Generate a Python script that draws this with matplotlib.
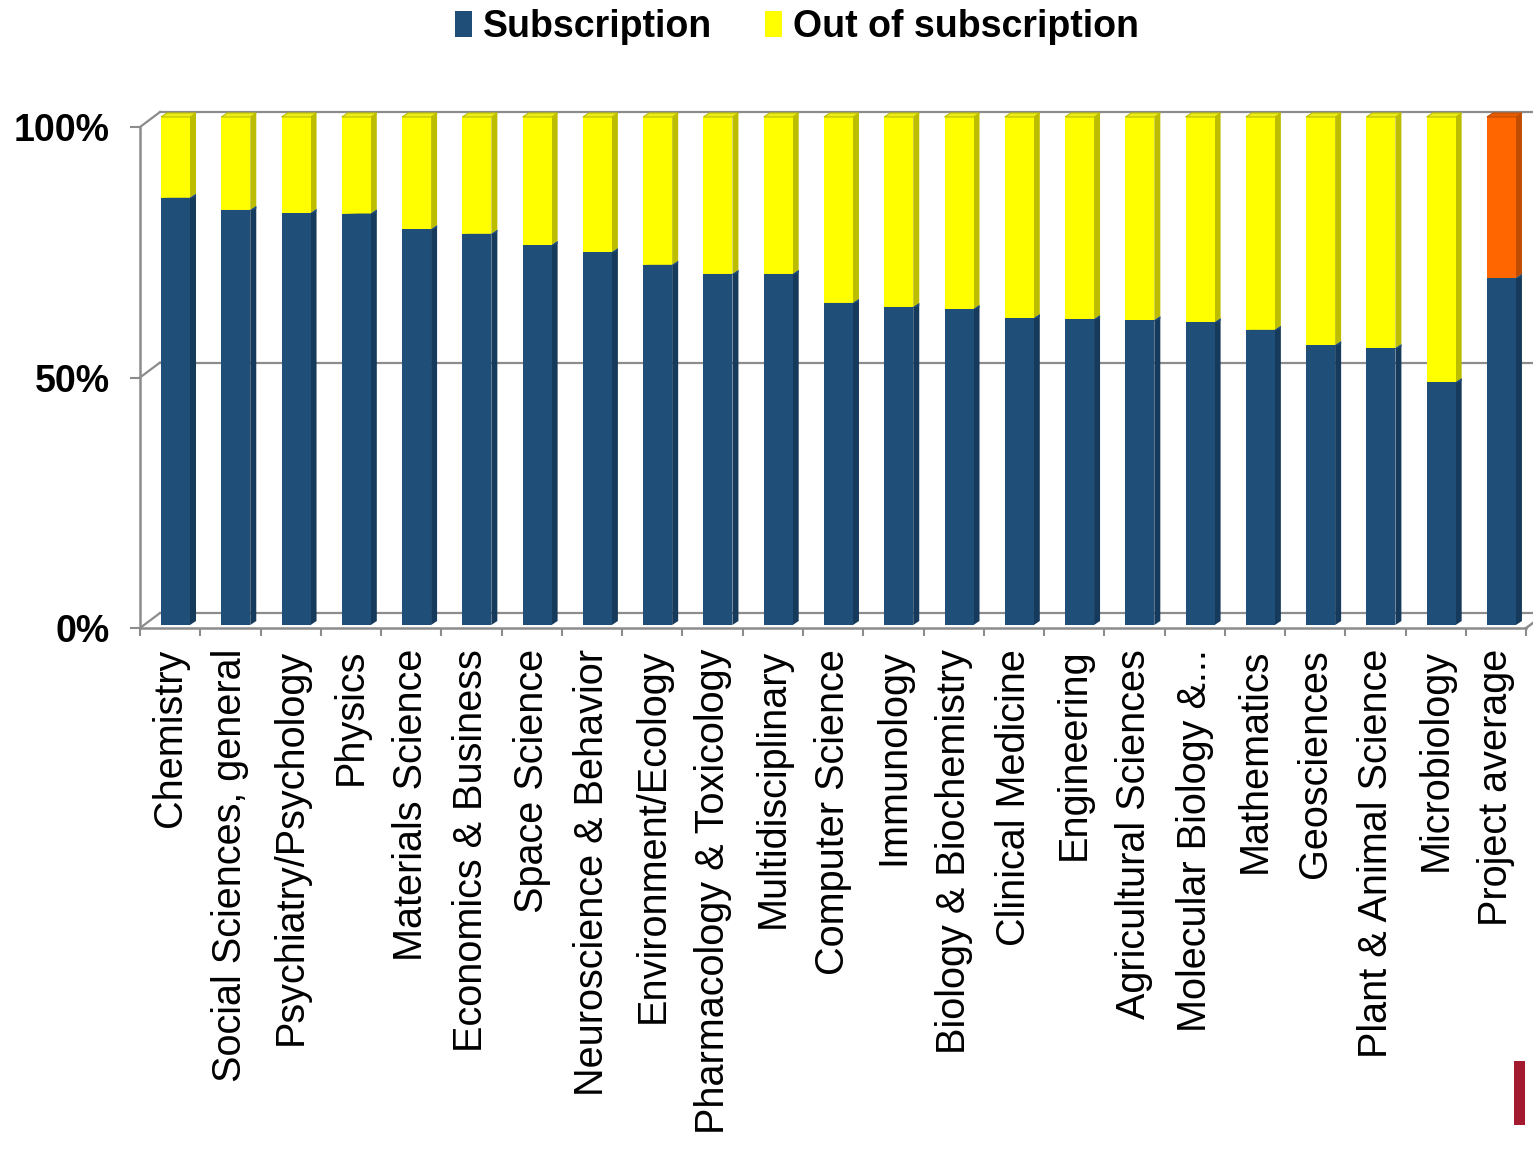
import matplotlib
matplotlib.use("Agg")
import matplotlib.pyplot as plt
from matplotlib.patches import Polygon, Patch, Rectangle
import numpy as np

# ---------------- data ----------------
categories = [
    "Chemistry", "Social Sciences, general", "Psychiatry/Psychology", "Physics",
    "Materials Science", "Economics & Business", "Space Science",
    "Neuroscience & Behavior", "Environment/Ecology", "Pharmacology & Toxicology",
    "Multidisciplinary", "Computer Science", "Immunology", "Biology & Biochemistry",
    "Clinical Medicine", "Engineering", "Agricultural Sciences", "Molecular Biology &...",
    "Mathematics", "Geosciences", "Plant & Animal Science", "Microbiology", "Project average",
]
subscription = [84.1, 81.7, 81.1, 81.0, 77.9, 77.0, 74.8, 73.4, 70.9, 69.1, 69.1, 63.4,
                62.6, 62.2, 60.4, 60.2, 60.0, 59.6, 58.1, 55.1, 54.5, 47.8, 68.3]
out_of_subscription = [15.9, 18.3, 18.9, 19.0, 22.1, 23.0, 25.2, 26.6, 29.1, 30.9, 30.9, 36.6,
                       37.4, 37.8, 39.6, 39.8, 40.0, 40.4, 41.9, 44.9, 45.5, 52.2, 31.7]
y_ticks = [0, 50, 100]
y_tick_labels = ["0%", "50%", "100%"]
series_names = ["Subscription", "Out of subscription"]

# ---------------- style ----------------
W, H = 1533, 1149
BLUE, BLUE_SIDE = "#1F4E79", "#163A5B"
YELLOW, YELLOW_SIDE, YELLOW_TOP = "#FFFF00", "#BDBD00", "#EDED1A"
ORANGE, ORANGE_SIDE, ORANGE_TOP = "#FF6600", "#BF4C00", "#E85C00"
GRID = "#8C8C8C"
FONT = "Liberation Sans"

n = len(categories)
top_colors = [YELLOW] * (n - 1) + [ORANGE]
top_side = [YELLOW_SIDE] * (n - 1) + [ORANGE_SIDE]
top_face = [YELLOW_TOP] * (n - 1) + [ORANGE_TOP]

fig = plt.figure(figsize=(W / 100, H / 100), dpi=100)
fig.patch.set_facecolor("white")


def px_axes(x0, ytop, x1, ybot):
    return fig.add_axes([x0 / W, 1 - ybot / H, (x1 - x0) / W, (ybot - ytop) / H])


step = 60.27  # px per category

# ---- front frame axes (axis line, ticks, labels, back wall) ----
axf = px_axes(140, 127, 1533, 628)
axf.set_xlim(-0.5, -0.5 + 1393 / step)
axf.set_ylim(0, 100)
axf.patch.set_alpha(0)
for s in ["top", "right"]:
    axf.spines[s].set_visible(False)
for s in ["left", "bottom"]:
    axf.spines[s].set_color(GRID)
    axf.spines[s].set_linewidth(1.8)
axf.spines["bottom"].set_bounds(-0.5, n - 0.5)

axf.set_yticks(y_ticks)
axf.set_yticklabels(y_tick_labels, fontfamily=FONT, fontweight="bold", fontsize=27)
axf.tick_params(axis="y", length=7, width=1.5, color=GRID, pad=15)

x = np.arange(n)
axf.set_xticks(x)
axf.set_xticklabels(categories, rotation=90, fontfamily=FONT, fontsize=28.5)
axf.set_xticks(np.arange(n + 1) - 0.5, minor=True)
axf.tick_params(axis="x", which="major", length=0, pad=15)
axf.tick_params(axis="x", which="minor", length=6, width=1.5, color=GRID)

# back wall gridlines (depth offset 20px right, 15px up)
dxb = 20 / step
dyb = 15 / (501 / 100)
xr = axf.get_xlim()[1]
for v in y_ticks:
    axf.plot([-0.5 + dxb, xr], [v + dyb, v + dyb], color=GRID, lw=1.6, clip_on=False, zorder=1)
    axf.plot([-0.5, -0.5 + dxb], [v, v + dyb], color=GRID, lw=1.6, clip_on=False, zorder=1)
axf.plot([n - 0.5, n - 0.5 + dxb], [0, dyb], color=GRID, lw=1.8, clip_on=False, zorder=1)

# ---- bars axes ----
ax = px_axes(140, 117, 1533, 625)
ax.set_xlim((140 - 175.5) / step, (140 - 175.5) / step + 1393 / step)
ax.set_ylim(0, 100)
ax.axis("off")

w = 29 / step
dx = 6 / step
dy = 4 / 5.08

ax.bar(x, subscription, w, color=BLUE, zorder=3, linewidth=0)
ax.bar(x, out_of_subscription, w, bottom=subscription, color=top_colors, zorder=3, linewidth=0)

for i in range(n):
    segs = [(0, subscription[i], BLUE_SIDE),
            (subscription[i], subscription[i] + out_of_subscription[i], top_side[i])]
    for b0, b1, c in segs:
        xe = x[i] + w / 2
        ax.add_patch(Polygon([(xe, b0), (xe + dx, b0 + dy), (xe + dx, b1 + dy), (xe, b1)],
                             closed=True, facecolor=c, edgecolor="none", zorder=2.9, clip_on=False))
    ytop = subscription[i] + out_of_subscription[i]
    ax.add_patch(Polygon([(x[i] - w / 2, ytop), (x[i] - w / 2 + dx, ytop + dy),
                          (x[i] + w / 2 + dx, ytop + dy), (x[i] + w / 2, ytop)],
                         closed=True, facecolor=top_face[i], edgecolor=top_side[i], lw=0.8,
                         zorder=3.1, clip_on=False))
    yb = subscription[i]
    ax.add_patch(Polygon([(x[i] - w / 2, yb), (x[i] + w / 2, yb), (x[i] + w / 2 + dx, yb + dy),
                          (x[i] + w / 2 + dx, yb + dy * 0.3), (x[i] + w / 2, yb - dy * 0.2)],
                         closed=True, facecolor=BLUE, edgecolor="none", zorder=3.05, clip_on=False))

# ---- legend ----
handles = [Patch(facecolor=BLUE, edgecolor="none"), Patch(facecolor=YELLOW, edgecolor="none")]
fig.legend(handles, series_names, loc="center", bbox_to_anchor=(797 / W, 1 - 27 / H), ncol=2,
           frameon=False, handlelength=0.45, handleheight=0.7, handletextpad=0.3,
           columnspacing=1.4, prop={"family": FONT, "weight": "bold", "size": 27})

# red marker bottom right
fig.add_artist(Rectangle((1514 / W, 1 - 1125 / H), 11 / W, 64 / H, transform=fig.transFigure,
                         facecolor="#A3192E", edgecolor="none"))

fig.savefig("out.png", dpi=100)
